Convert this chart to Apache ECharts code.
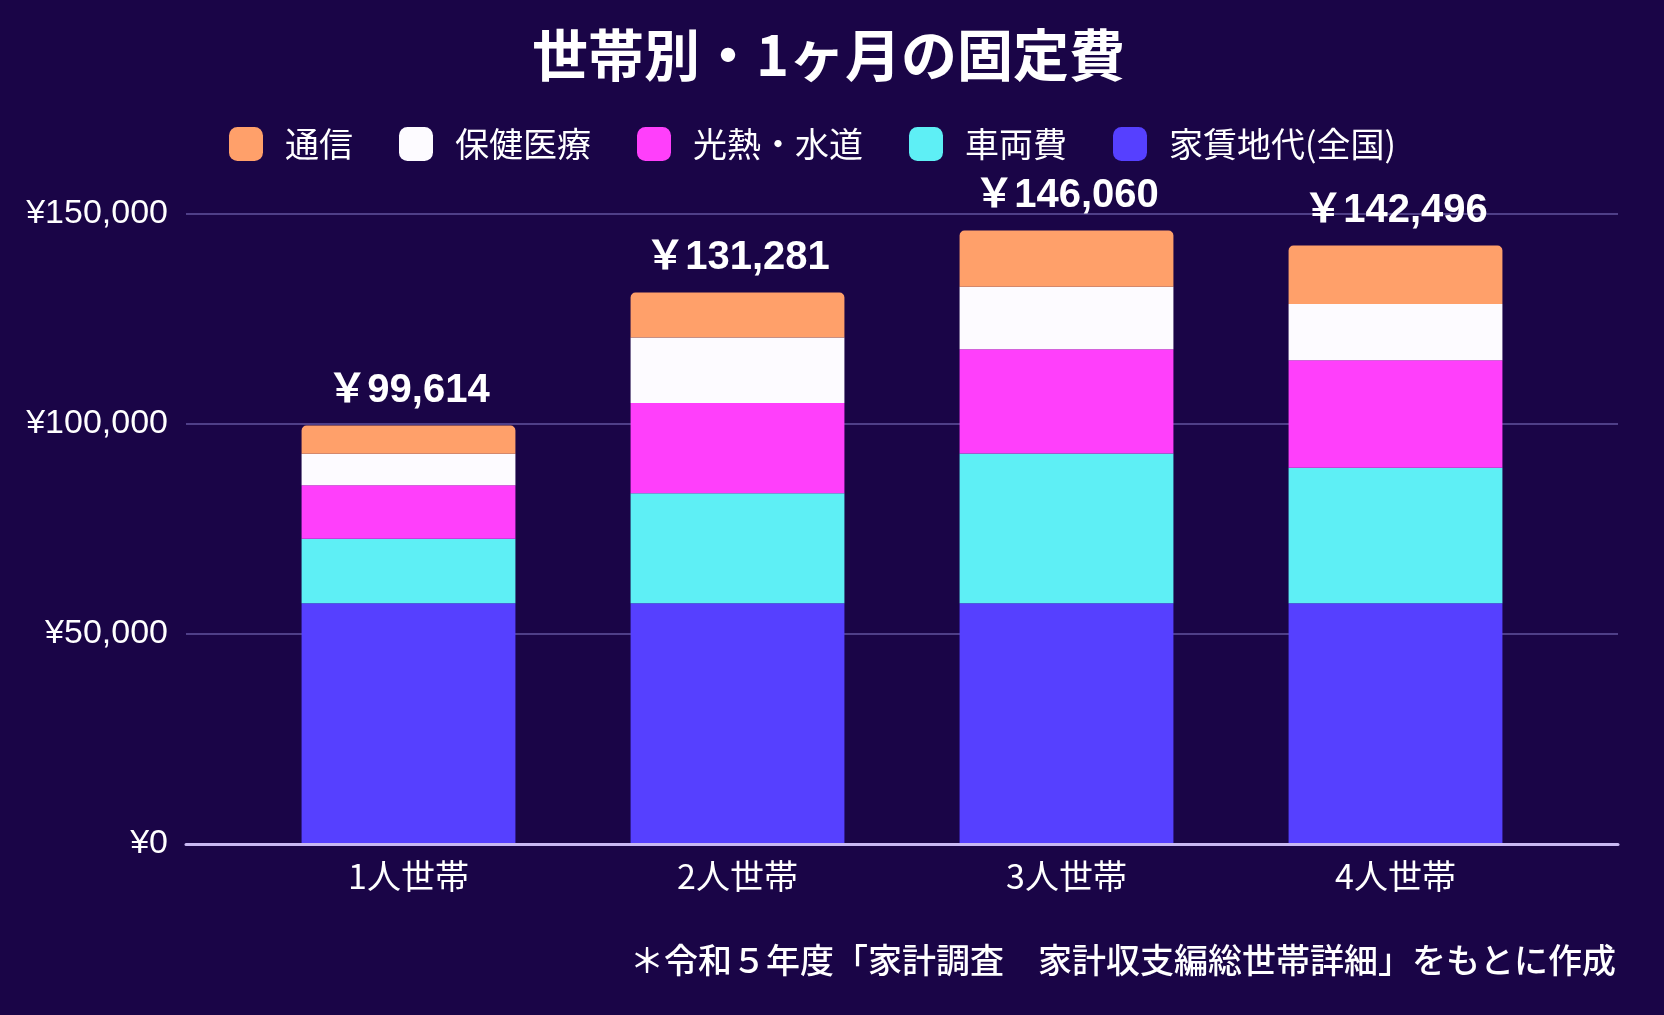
<!DOCTYPE html>
<html><head><meta charset="utf-8">
<script src="https://cdn.jsdelivr.net/npm/echarts@6/dist/echarts.min.js"></script>
<style>html,body{margin:0;padding:0;background:#1a0547;}#c{width:1664px;height:1015px;}</style>
</head><body><div id="c"></div>
<script>
const categories = ['1人世帯', '2人世帯', '3人世帯', '4人世帯'];
const rent = [57300, 57300, 57300, 57300];        // 家賃地代(全国)
const car = [15400, 26200, 35700, 32300];         // 車両費
const utilities = [12700, 21500, 24800, 25600];   // 光熱・水道
const health = [7500, 15600, 14900, 13400];       // 保健医療
const comm = [6714, 10681, 13360, 13896];         // 通信
const totals = [99614, 131281, 146060, 142496];
const yTicks = [0, 50000, 100000, 150000];
const legendOrder = ['通信', '保健医療', '光熱・水道', '車両費', '家賃地代(全国)'];

const colors = {
  '家賃地代(全国)': '#5640ff',
  '車両費': '#5eeff5',
  '光熱・水道': '#ff3ffb',
  '保健医療': '#fdfbff',
  '通信': '#ffa06a'
};
const CJK = '"Noto Sans CJK JP", "Noto Sans", sans-serif';
const LAT = '"Liberation Sans", Arial, "Noto Sans CJK JP", sans-serif';

const stackSeries = [
  ['家賃地代(全国)', rent],
  ['車両費', car],
  ['光熱・水道', utilities],
  ['保健医療', health],
  ['通信', comm]
].map(([name, data], i, arr) => {
  const top = i === arr.length - 1;
  return {
    name, type: 'bar', stack: 'total', data,
    xAxisIndex: 1, yAxisIndex: 1,
    barCategoryGap: '35%',
    itemStyle: { color: colors[name], borderRadius: top ? [5, 5, 0, 0] : 0 },
    label: top ? {
      show: true, position: 'top', distance: 15,
      formatter: p => '￥' + totals[p.dataIndex].toLocaleString('en-US'),
      color: '#ffffff', fontSize: 40, fontWeight: 'bold', fontFamily: LAT
    } : { show: false },
    emphasis: { disabled: true }
  };
});

const chart = echarts.init(document.getElementById('c'), null, { renderer: 'canvas' });
chart.setOption({
  backgroundColor: '#1a0547',
  animation: false,
  title: {
    text: '世帯別・1ヶ月の固定費', left: 527, top: 22,
    textStyle: { color: '#ffffff', fontSize: 56, fontWeight: 'bold', fontFamily: CJK }
  },
  legend: {
    data: legendOrder, left: 224, top: 122,
    icon: 'roundRect', itemWidth: 34, itemHeight: 34, itemGap: 46,
    textStyle: { color: '#ffffff', fontSize: 34, fontFamily: CJK, padding: [0, 0, 0, 17] }
  },
  grid: [
    { left: 186, right: 46, top: 214, bottom: 171 },
    { left: 244, right: 104, top: 214, bottom: 171 }
  ],
  xAxis: [
    { type: 'category', gridIndex: 0, data: [''], z: 10,
      axisLine: { show: true, lineStyle: { color: '#c9b9f3', width: 3 } },
      axisTick: { show: false }, axisLabel: { show: false } },
    { type: 'category', gridIndex: 1, data: categories,
      axisLine: { show: false }, axisTick: { show: false },
      axisLabel: { color: '#ffffff', fontSize: 34, fontFamily: CJK, margin: 15 } }
  ],
  yAxis: [
    { type: 'value', gridIndex: 0, min: yTicks[0], max: yTicks[yTicks.length - 1], interval: yTicks[1] - yTicks[0],
      axisLine: { show: false }, axisTick: { show: false },
      splitLine: { lineStyle: { color: '#4f3f88', width: 2 } },
      axisLabel: { color: '#ffffff', fontSize: 34, fontFamily: LAT, margin: 18,
        formatter: v => '¥' + v.toLocaleString('en-US') } },
    { type: 'value', gridIndex: 1, min: yTicks[0], max: yTicks[yTicks.length - 1], interval: yTicks[1] - yTicks[0],
      show: false, splitLine: { show: false } }
  ],
  series: stackSeries,
  graphic: [{
    type: 'text', right: 48, top: 943,
    style: { text: '＊令和５年度「家計調査　家計収支編総世帯詳細」をもとに作成',
      fill: '#ffffff', fontSize: 34, fontFamily: CJK, fontWeight: 500 }
  }]
});
</script></body></html>
